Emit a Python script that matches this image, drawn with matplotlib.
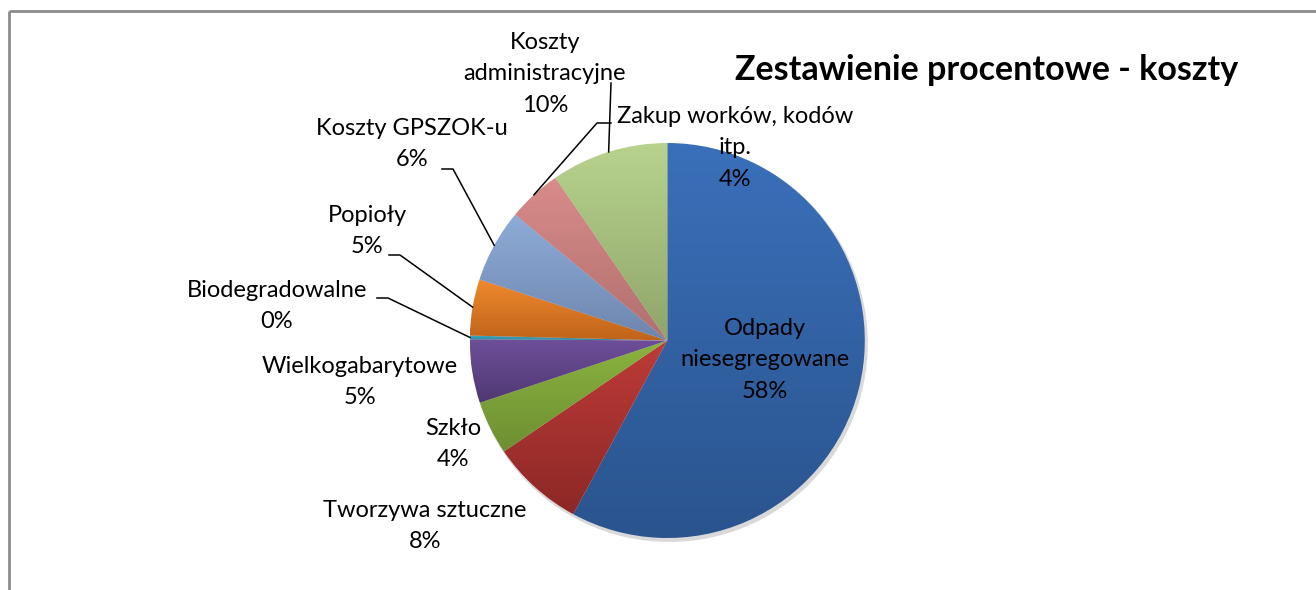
import numpy as np
import matplotlib
matplotlib.use('Agg')
import matplotlib.pyplot as plt
from matplotlib.colors import to_rgb

#---------------------- DATA
names  = ['Odpady\nniesegregowane', 'Tworzywa sztuczne', 'Szkło', 'Wielkogabarytowe',
          'Biodegradowalne', 'Popioły', 'Koszty GPSZOK-u', 'Zakup worków, kodów\nitp.',
          'Koszty\nadministracyjne']
shares = [57.9, 7.6, 4.4, 5.2, 0.3, 4.6, 6.0, 4.4, 9.6]
title  = 'Zestawienie procentowe - koszty'

# top / bottom colour of each slice gradient
c_top = ['#3A70BA', '#BE3B38', '#8AB43F', '#6E4F9A', '#3FA9C4',
         '#F08A2E', '#8EACD8', '#D98C8A', '#B8D38E']
c_bot = ['#2A548E', '#8C2826', '#6E8E32', '#4F3872', '#2F8AA0',
         '#C0641A', '#6E86AE', '#B0706E', '#8FA56A']

#---------------------- LAYOUT (pixels, y from top)
W, H = 1316, 590
cx, cy, R = 667.3, 340.5, 197.5
# label centre x, y
lab_pos = [(765, 360), (425, 526), (453, 444), (360, 382), (277, 306),
           (367, 231), (412, 144), (735, 148), (545, 74)]
# leader line: elbow points after leaving the pie (None = no leader)
leaders = [None, None, None, None,
           [(388, 298), (377, 298)],
           [(400, 255), (389, 255)],
           [(453, 169), (442, 169)],
           [(597, 123), (611, 123)],
           [(611, 83)]]

plt.rcParams['font.family'] = ['Lato', 'DejaVu Sans']

fig = plt.figure(figsize=(W/100., H/100.), dpi=100)
ax = fig.add_axes([0, 0, 1, 1])

def py(y):
    return H - y

# shadow
sh = plt.Circle((cx + 2, py(cy) - 3), R + 1, color='#000000', alpha=0.15, lw=0)
ax.add_patch(sh)

wedges, _ = ax.pie(shares, startangle=90, counterclock=False,
                   center=(cx, py(cy)), radius=R, frame=True,
                   wedgeprops=dict(linewidth=0))

# per-slice vertical gradient
for w, ct, cb in zip(wedges, c_top, c_bot):
    bb = w.get_path().get_extents()
    t = np.linspace(0, 1, 128)[:, None]
    a = np.array(to_rgb(ct)); b = np.array(to_rgb(cb))
    img = (a[None, None, :] * (1 - t[..., None]) + b[None, None, :] * t[..., None])
    img = np.repeat(img, 2, axis=1)
    im = ax.imshow(img, extent=(bb.x0, bb.x1, bb.y0, bb.y1), origin='upper',
                   aspect='auto', interpolation='bilinear', zorder=w.get_zorder())
    im.set_clip_path(w)
    w.set_facecolor('none')

# labels
for i, (n, s) in enumerate(zip(names, shares)):
    x, y = lab_pos[i]
    ax.text(x, py(y), '%s\n%.0f%%' % (n, s), ha='center', va='center',
            fontsize=17, linespacing=1.62, color='black', zorder=5)
    if leaders[i] is not None:
        th = np.deg2rad(0.5 * (wedges[i].theta1 + wedges[i].theta2))
        pts = [(cx + R*np.cos(th), py(cy) + R*np.sin(th))] + \
              [(px, py(yy)) for px, yy in leaders[i]]
        pts = np.array(pts)
        ax.plot(pts[:, 0], pts[:, 1], color='black', lw=1.1, zorder=4)

ax.text(987, py(70), title, ha='center', va='center', fontsize=24.5,
        fontweight='bold', color='black')

# chart frame (top and left edges)
ax.plot([9, W], [py(11), py(11)], color='#8c8c8c', lw=2, solid_capstyle='butt')
ax.plot([9, 9], [py(11), 0], color='#8c8c8c', lw=2, solid_capstyle='butt')

ax.set_xlim(0, W)
ax.set_ylim(0, H)
ax.set_aspect('auto')
ax.axis('off')

plt.savefig('out.png', dpi=100)
